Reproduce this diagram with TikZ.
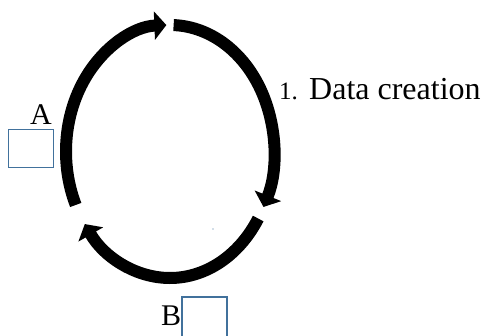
\documentclass[tikz,border=0pt]{standalone}
\usepackage{fontspec}
\setmainfont{Liberation Serif}
\usetikzlibrary{arrows.meta}
\definecolor{boxblue}{HTML}{41719C}
\begin{document}
\begin{tikzpicture}[x=1pt,y=1pt,
  cyclearrow/.style={line width=12pt, -{Triangle[length=12pt,width=28pt]}},
  markbox/.style={draw=boxblue, line width=1.2pt, minimum width=45pt, minimum height=38.5pt, inner sep=0pt},
  lbl/.style={font=\fontsize{30}{30}\selectfont, inner sep=0pt}]
\useasboundingbox (0,0) rectangle (484,335);
\coordinate (c) at (170,183.5);
% cycle arrows
\draw[cyclearrow] (c) ++(205:104 and 126.5) arc[start angle=205,end angle=92,x radius=104,y radius=126.5];
\draw[cyclearrow] (c) ++(88:104 and 126.5) arc[start angle=88,end angle=-26,x radius=104,y radius=126.5];
\draw[cyclearrow] (c) ++(-32:104 and 126.5) arc[start angle=-32,end angle=-145,x radius=104,y radius=126.5];
% labels
\node[anchor=base west, font=\fontsize{25}{25}\selectfont, inner sep=0pt] (num) at (279,235) {1.};
\node[anchor=base west, font=\fontsize{32}{32}\selectfont, inner sep=0pt] (lab) at (309,235) {Data creation};
\node[lbl, anchor=base west] (A) at (30,210) {A};
\node[markbox] (boxA) at (30.8,186.6) {};
\node[lbl, anchor=base west] (B) at (161,10) {B};
\node[markbox, minimum height=43pt] (boxB) at (204.5,16.5) {};
\fill[boxblue] (213,106) circle (0.6);
\end{tikzpicture}
\end{document}
